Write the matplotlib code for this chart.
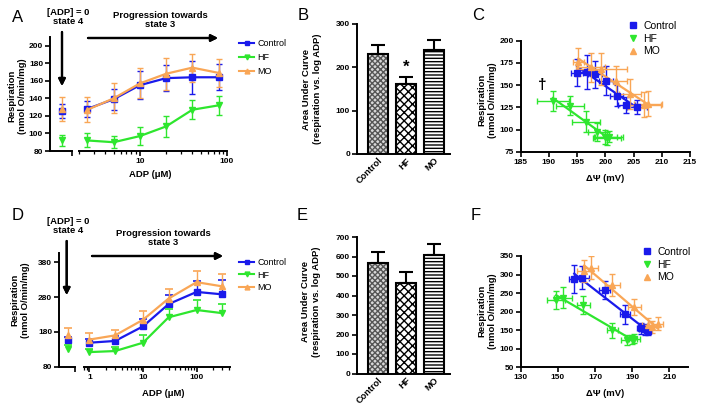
import numpy as np
import matplotlib.pyplot as plt
from matplotlib.lines import Line2D
from matplotlib.ticker import FuncFormatter, NullFormatter

plt.rcParams['font.family'] = ['Liberation Sans', 'DejaVu Sans']
plt.rcParams['font.weight'] = 'bold'

# ---- data ----
groups = ['Control', 'HF', 'MO']

# A: respiration vs ADP, first set
adp_a = [2.5, 5, 10, 20, 40, 80]
a_state4 = [126, 92, 128]
a_state4_err = [8, 6, 14]
a_ctrl = [128, 139, 155, 163, 164, 164]
a_ctrl_err = [9, 12, 16, 15, 19, 15]
a_hf = [92, 90, 97, 108, 127, 132]
a_hf_err = [8, 7, 10, 12, 11, 11]
a_mo = [127, 140, 157, 168, 175, 169]
a_mo_err = [14, 17, 17, 18, 16, 16]

# B: area under curve
b_auc = [231, 161, 239]
b_auc_err = [21, 17, 24]

# C: respiration vs membrane potential
c_ctrl_x = [205.6, 203.7, 202.0, 200.1, 198.2, 196.7, 195.0]
c_ctrl_y = [125, 128, 138, 155, 162, 165, 164]
c_ctrl_xerr = [1.8, 1.5, 1.2, 1.3, 1.2, 1.5, 1.0]
c_ctrl_yerr = [8, 9, 12, 16, 15, 19, 15]
c_hf_x = [200.6, 200.0, 200.3, 198.5, 196.6, 193.7, 190.7]
c_hf_y = [92, 92, 90, 97, 109, 127, 132]
c_hf_xerr = [2.5, 2.0, 2.5, 1.5, 2.5, 2.5, 2.8]
c_hf_yerr = [6, 8, 7, 10, 12, 11, 11]
c_mo_x = [207.6, 206.8, 204.4, 201.9, 199.3, 195.2, 197.4]
c_mo_y = [129, 128, 140, 155, 168, 176, 170]
c_mo_xerr = [2.5, 3.0, 2.0, 2.0, 4.5, 1.0, 2.5]
c_mo_yerr = [14, 14, 17, 17, 18, 16, 16]

# D: respiration vs ADP, second set
adp_d = [1, 3, 10, 30, 100, 300]
d_state4 = [156, 132, 170]
d_state4_err = [10, 10, 22]
d_ctrl = [149, 154, 196, 260, 295, 288]
d_ctrl_err = [12, 14, 22, 26, 30, 40]
d_hf = [122, 125, 149, 222, 243, 234]
d_hf_err = [10, 12, 23, 25, 28, 26]
d_mo = [158, 170, 215, 276, 323, 311]
d_mo_err = [20, 16, 24, 28, 31, 36]

# E: area under curve
e_auc = [565, 466, 608]
e_auc_err = [56, 53, 55]

# F: respiration vs membrane potential
f_ctrl_x = [194.8, 198.3, 196.9, 186.3, 175.3, 162.9, 158.8]
f_ctrl_y = [155, 149, 152, 193, 258, 292, 287]
f_ctrl_xerr = [2, 2, 3, 2.7, 3, 4, 3]
f_ctrl_yerr = [15, 12, 14, 25, 25, 31, 38]
f_hf_x = [189.8, 187.2, 191.0, 179.2, 163.6, 152.7, 149.1]
f_hf_y = [125, 124, 127, 150, 218, 238, 232]
f_hf_xerr = [3, 3, 3, 3, 3.5, 5, 5]
f_hf_yerr = [12, 14, 12, 20, 25, 28, 25]
f_mo_x = [198.3, 200.8, 203.6, 191.2, 179.2, 167.7, 164.2]
f_mo_y = [164, 158, 168, 213, 271, 319, 310]
f_mo_xerr = [3, 3, 3, 3.5, 4, 4, 4]
f_mo_yerr = [18, 16, 18, 22, 30, 32, 30]

colors = ['#1a1aeb', '#2ee62e', '#f9a656']
markers = ['s', 'v', '^']

W, H = 701, 405
fig = plt.figure(figsize=(W / 100, H / 100), dpi=100)


def box(l, t, r, b):
    return [l / W, 1 - b / H, (r - l) / W, (b - t) / H]


def style(ax, left=True):
    ax.spines['top'].set_visible(False)
    ax.spines['right'].set_visible(False)
    ax.spines['left'].set_visible(left)
    for s in ['left', 'bottom']:
        ax.spines[s].set_linewidth(1.4)
    ax.tick_params(which='major', width=1.2, length=3.5, labelsize=6, pad=1.5)
    ax.tick_params(which='minor', width=0.9, length=2)
    if not left:
        ax.set_yticks([])


def ftext(x, y, s, **kw):
    fig.text(x / W, 1 - y / H, s, **kw)


def arrow(x1, y1, x2, y2):
    fig.add_artist(plt.annotate('', xy=(x2, H - y2), xytext=(x1, H - y1),
                                xycoords='figure pixels', textcoords='figure pixels',
                                arrowprops=dict(arrowstyle='-|>', lw=1.6, color='black',
                                                mutation_scale=10, shrinkA=0, shrinkB=0),
                                annotation_clip=False))


def dose_panel(left_box, right_box, ylim, yticks, xlim, xticks, conc,
               series, errs, s4, s4err, state_x, upper_only, ms):
    axL = fig.add_axes(left_box)
    axR = fig.add_axes(right_box)
    style(axL)
    style(axR, left=False)
    axL.set_xlim(0, 1)
    axL.set_xticks([1])
    axL.set_xticklabels([])
    axL.set_ylim(*ylim)
    axL.set_yticks(yticks)
    axR.set_ylim(*ylim)
    axR.set_xscale('log')
    axR.set_xlim(*xlim)
    axR.set_xticks(xticks)
    axR.xaxis.set_major_formatter(FuncFormatter(lambda v, p: f'{v:g}'))
    axR.xaxis.set_minor_formatter(NullFormatter())
    for i in range(3):
        y = np.array(series[i])
        e = np.array(errs[i])
        if upper_only:
            axR.errorbar(conc, y, yerr=[np.zeros_like(e), e], fmt='none',
                         ecolor=colors[i], elinewidth=1, capsize=0)
            axR.plot(conc, y + e, ls='none', marker='_', ms=6, mew=1.2,
                     color=colors[i])
            axL.errorbar([state_x], [s4[i]], yerr=[[0], [s4err[i]]], fmt='none',
                         ecolor=colors[i], elinewidth=1, capsize=0)
            axL.plot([state_x], [s4[i] + s4err[i]], ls='none', marker='_', ms=6,
                     mew=1.2, color=colors[i])
            axR.plot(conc, y, color=colors[i], marker=markers[i], ms=ms, lw=1.6)
            axL.plot([state_x], [s4[i]], color=colors[i], marker=markers[i], ms=ms)
        else:
            axR.errorbar(conc, y, yerr=e, color=colors[i], marker=markers[i],
                         ms=ms, lw=1.6, elinewidth=1, capsize=2.5, capthick=1)
            axL.errorbar([state_x], [s4[i]], yerr=[s4err[i]], color=colors[i],
                         marker=markers[i], ms=ms, elinewidth=1, capsize=2.5,
                         capthick=1)
    for ax in (axL, axR):
        for a in ax.get_children():
            if hasattr(a, 'set_clip_on'):
                a.set_clip_on(False)
    handles = [Line2D([0], [0], color=colors[i], marker=markers[i], ms=3.5, lw=1.5)
               for i in range(3)]
    return axL, axR, handles


def auc_panel(b, vals, errs, ylim, yticks):
    ax = fig.add_axes(b)
    style(ax)
    x = np.arange(3)
    ax.bar(x[0], vals[0], width=0.72, color='#d8d8d8', hatch='xxxxxx',
           edgecolor='#555555', lw=0)
    ax.bar(x[1], vals[1], width=0.72, color='white', hatch='xxxx',
           edgecolor='black', lw=0)
    ax.bar(x[2], vals[2], width=0.72, color='white', hatch='-----',
           edgecolor='black', lw=0)
    ax.bar(x, vals, width=0.72, fill=False, edgecolor='black', lw=1.5)
    ax.errorbar(x, vals, yerr=[np.zeros(3), errs], fmt='none', ecolor='black',
                elinewidth=1.5, capsize=5, capthick=1.5)
    ax.set_xlim(-0.75, 2.57)
    ax.set_ylim(*ylim)
    ax.set_yticks(yticks)
    ax.set_xticks(x)
    ax.set_xticklabels(groups, rotation=45, ha='right', va='top',
                       rotation_mode='anchor', fontsize=6.6)
    ax.tick_params(axis='x', length=0, pad=1.5)
    return ax


def mp_panel(b, xs, ys, xerrs, yerrs, xlim, xticks, ylim, yticks):
    ax = fig.add_axes(b)
    style(ax)
    for i in range(3):
        x = np.array(xs[i])
        y = np.array(ys[i])
        k, c0 = np.polyfit(x, y, 1)
        xx = np.array([x.min(), x.max()])
        ax.plot(xx, k * xx + c0, color=colors[i], lw=1.6)
        ax.errorbar(x, y, xerr=xerrs[i], yerr=yerrs[i], fmt=markers[i],
                    color=colors[i], ms=4, elinewidth=1, capsize=2, capthick=1)
    ax.set_xlim(*xlim)
    ax.set_xticks(xticks)
    ax.set_ylim(*ylim)
    ax.set_yticks(yticks)
    handles = [Line2D([0], [0], ls='none', color=colors[i], marker=markers[i], ms=4)
               for i in range(3)]
    return ax, handles


# ---- A ----
axL, axR, h = dose_panel(box(50, 36.9, 72, 151), box(79, 36.9, 227, 151),
                         (80, 210), range(80, 201, 20), (2, 100), [10, 100], adp_a,
                         [a_ctrl, a_hf, a_mo], [a_ctrl_err, a_hf_err, a_mo_err],
                         a_state4, a_state4_err, 0.545, False, 3.8)
fig.legend(h, groups, loc='upper left', bbox_to_anchor=(239 / W, 1 - 39 / H),
           frameon=False, prop={'size': 6.5, 'weight': 'normal'}, handlelength=1.7,
           handletextpad=0.3, labelspacing=0.55, borderpad=0, borderaxespad=0)
ftext(17, 96, 'Respiration\n(nmol O/min/mg)', rotation=90, ha='center',
      va='center', fontsize=6.8)
ftext(150, 175, 'ADP (\u03bcM)', ha='center', va='center', fontsize=6.8)
ftext(68, 17, '[ADP] = 0\nstate 4', ha='center', va='center', fontsize=6.8,
      linespacing=1.1)
ftext(160, 20, 'Progression towards\nstate 3', ha='center', va='center',
      fontsize=6.8, linespacing=1.1)
arrow(62, 32, 62, 86)
arrow(88, 38, 218, 38)

# ---- B ----
auc_panel(box(357, 24, 450, 154), b_auc, b_auc_err, (0, 300), range(0, 301, 100))
ftext(312, 89, 'Area Under Curve\n(respiration vs. log ADP)', rotation=90,
      ha='center', va='center', fontsize=6.8)
ftext(406, 67, '*', ha='center', va='center', fontsize=12)

# ---- C ----
axC, hc = mp_panel(box(520.7, 40.7, 690, 151.7),
                   [c_ctrl_x, c_hf_x, c_mo_x], [c_ctrl_y, c_hf_y, c_mo_y],
                   [c_ctrl_xerr, c_hf_xerr, c_mo_xerr],
                   [c_ctrl_yerr, c_hf_yerr, c_mo_yerr],
                   (185, 215), range(185, 216, 5), (75, 200), range(75, 201, 25))
axC.text(188.9, 150, '\u2020', ha='center', va='center', fontsize=11)
fig.legend(hc, groups, loc='upper left', bbox_to_anchor=(629 / W, 1 - 21 / H),
           frameon=False, prop={'size': 7.5, 'weight': 'normal'}, handlelength=0.8,
           handletextpad=0.6, labelspacing=0.25, borderpad=0, borderaxespad=0)
ftext(487, 100, 'Respiration\n(nmol O/min/mg)', rotation=90, ha='center',
      va='center', fontsize=6.8)
ftext(605, 178, '\u0394\u03a8 (mV)', ha='center', va='center', fontsize=6.8)

# ---- D ----
axL2, axR2, h2 = dose_panel(box(59, 253.3, 75, 366.7), box(84.3, 253.3, 230, 366.7),
                            (80, 406), range(80, 381, 100), (0.8, 420), [1, 10, 100],
                            adp_d, [d_ctrl, d_hf, d_mo],
                            [d_ctrl_err, d_hf_err, d_mo_err],
                            d_state4, d_state4_err, 0.54, True, 5)
fig.legend(h2, groups, loc='upper left', bbox_to_anchor=(239 / W, 1 - 258 / H),
           frameon=False, prop={'size': 6.5, 'weight': 'normal'}, handlelength=1.7,
           handletextpad=0.3, labelspacing=0.4, borderpad=0, borderaxespad=0)
ftext(20, 300, 'Respiration\n(nmol O/min/mg)', rotation=90, ha='center',
      va='center', fontsize=6.8)
ftext(163, 393, 'ADP (\u03bcM)', ha='center', va='center', fontsize=6.8)
ftext(68, 226, '[ADP] = 0\nstate 4', ha='center', va='center', fontsize=6.8,
      linespacing=1.1)
ftext(163, 238, 'Progression towards\nstate 3', ha='center', va='center',
      fontsize=6.8, linespacing=1.1)
arrow(66.7, 241, 66.7, 295)
arrow(92, 256, 223, 256)

# ---- E ----
auc_panel(box(357, 237, 450, 373.5), e_auc, e_auc_err, (0, 700), range(0, 701, 100))
ftext(311, 302, 'Area Under Curve\n(respiration vs. log ADP)', rotation=90,
      ha='center', va='center', fontsize=6.8)

# ---- F ----
axF, hf_ = mp_panel(box(520.7, 256, 688, 367.3),
                    [f_ctrl_x, f_hf_x, f_mo_x], [f_ctrl_y, f_hf_y, f_mo_y],
                    [f_ctrl_xerr, f_hf_xerr, f_mo_xerr],
                    [f_ctrl_yerr, f_hf_yerr, f_mo_yerr],
                    (130, 220), range(130, 211, 20), (50, 350), range(50, 351, 50))
fig.legend(hf_, groups, loc='upper left', bbox_to_anchor=(643 / W, 1 - 247 / H),
           frameon=False, prop={'size': 7.5, 'weight': 'normal'}, handlelength=0.8,
           handletextpad=0.6, labelspacing=0.25, borderpad=0, borderaxespad=0)
ftext(487, 311, 'Respiration\n(nmol O/min/mg)', rotation=90, ha='center',
      va='center', fontsize=6.8)
ftext(605, 393, '\u0394\u03a8 (mV)', ha='center', va='center', fontsize=6.8)

# panel letters
for s, x, y in [('A', 18, 17), ('B', 303, 16), ('C', 478, 16),
                ('D', 18, 216), ('E', 302, 216), ('F', 476, 216)]:
    ftext(x, y, s, ha='center', va='center', fontsize=12, fontweight='normal')

fig.savefig('out.png', dpi=100)
